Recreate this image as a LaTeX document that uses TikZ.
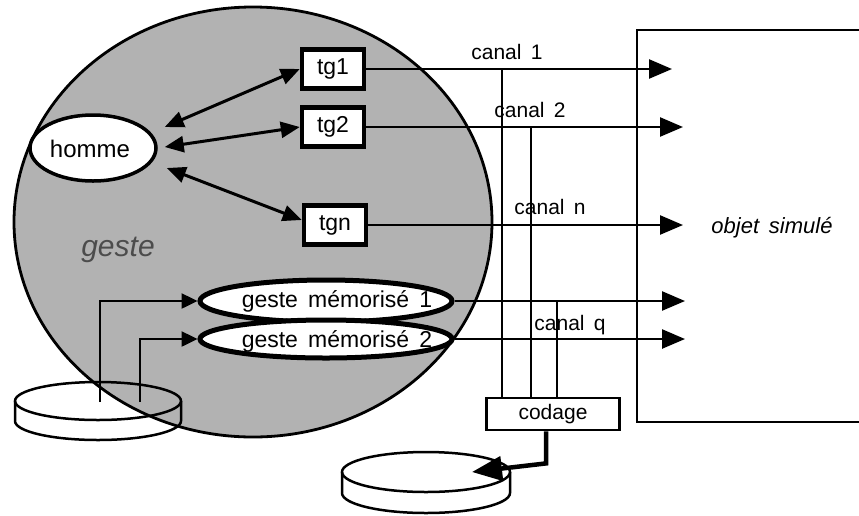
\documentclass[tikz,border=0pt]{standalone}
\usepackage{fontspec}
\setmainfont[WordSpace=1.6]{Liberation Sans}
\usetikzlibrary{arrows.meta,shapes.geometric,calc}
\begin{document}
\begin{tikzpicture}[x=1pt,y=-1pt,
  txt/.style={font=\fontsize{21}{24}\selectfont, inner sep=0pt},
  btxt/.style={font=\fontsize{23}{26}\selectfont, inner sep=0pt},
  itxt/.style={font=\fontsize{22}{25}\selectfont\itshape, inner sep=0pt},
  gbox/.style={draw, line width=4.5pt, fill=white, minimum width=62pt, minimum height=39pt, inner sep=0pt, font=\fontsize{23}{26}\selectfont},
  ovalw/.style={ellipse, draw, fill=white, inner sep=0pt},
  biarrow/.style={line width=3pt, {Triangle[length=19pt,width=16pt]}-{Triangle[length=19pt,width=16pt]}},
  chan/.style={line width=2.5pt, -{Triangle[length=23pt,width=19pt]}},
  memarrow/.style={line width=2.5pt, -{Triangle[length=16pt,width=15pt]}},
  thinl/.style={line width=2.5pt},
  disc/.style={line width=2.5pt},
  ]
\useasboundingbox (0,0) rectangle (859,515);

% big gesture circle
\node[draw, line width=2.8pt, fill=black!30, ellipse, minimum width=478pt, minimum height=430pt, inner sep=0pt] (geste) at (253,222) {};
\node[font=\fontsize{30}{32}\selectfont\itshape, text=black!70, inner sep=0pt] (gestet) at (118,250) {geste};

% upper-left disc
\draw[disc] (98,401) ellipse [x radius=83pt, y radius=19pt];
\draw[disc] (15,401) -- (15,421) arc[start angle=180, end angle=360, x radius=83pt, y radius=19pt] -- (181,401);

% lower disc
\draw[disc] (426,472) ellipse [x radius=84pt, y radius=20pt];
\draw[disc] (342,472) -- (342,493) arc[start angle=180, end angle=360, x radius=84pt, y radius=20pt] -- (510,472);

% memorised gestures
\node[ovalw, line width=5pt, minimum width=252pt, minimum height=42pt] (mem1) at (326,301) {};
\node[ovalw, line width=5pt, minimum width=252pt, minimum height=38pt] (mem2) at (326,339) {};
\node[btxt] (mem1t) at (337,301) {geste mémorisé 1};
\node[btxt] (mem2t) at (337,341) {geste mémorisé 2};

\coordinate (d1) at (100,402);
\coordinate (d2) at (140,402);
\draw[memarrow] (d1) |- (mem1.west);
\draw[memarrow] (d2) |- (mem2.west);

% homme
\node[ovalw, line width=3.5pt, minimum width=126pt, minimum height=66pt] (homme) at (93,148) {};
\node[font=\fontsize{24}{27}\selectfont, inner sep=0pt] (hommet) at (90,149) {homme};

% tg boxes
\node[gbox] (tg1) at (333,69) {tg1};
\node[gbox] (tg2) at (333,127) {tg2};
\node[gbox] (tgn) at (335,225) {tgn};

\draw[biarrow] ($(homme.east)+(7,-21)$) -- (tg1.west);
\draw[biarrow] ($(homme.east)+(7,-1)$) -- (tg2.west);
\draw[biarrow] ($(homme.east)+(9,20)$) -- ([yshift=5pt]tgn.west);

% simulated object frame
\node[draw, line width=2.5pt, minimum width=263pt, minimum height=392pt, inner sep=0pt] (objet) at (768.5,226) {};
\node[itxt] (objett) at (772,228) {objet simulé};

% channels
\coordinate (e1) at (672,69);
\coordinate (e2) at (683,127);
\coordinate (en) at (683,225);
\coordinate (eq1) at (685,301);
\coordinate (eq2) at (685,339);
\draw[chan] (tg1.east) -- (e1);
\draw[chan] (tg2.east) -- (e2);
\draw[chan] (tgn.east) -- (en);
\draw[chan] (mem1.east) -- (eq1);
\draw[chan] (mem2.east) -- (eq2);

\node[txt] (c1) at (507,52) {canal 1};
\node[txt] (c2) at (530,110) {canal 2};
\node[txt] (cn) at (550,207) {canal n};
\node[txt] (cq) at (570,325) {canal q};

% codage
\node[draw, line width=2.8pt, fill=white, minimum width=133pt, minimum height=32pt, txt] (codage) at (553,414) {codage};
\coordinate (v1) at (502,69);
\coordinate (v2) at (531,127);
\coordinate (v3) at (557,301);
\draw[thinl] (v1) -- (v1 |- codage.north);
\draw[thinl] (v2) -- (v2 |- codage.north);
\draw[thinl] (v3) -- (v3 |- codage.north);

\coordinate (dk) at (472,472);
\draw[line width=4.5pt, -{Triangle[length=30pt,width=24pt]}] ([xshift=-7pt]codage.south) -- ++(0,32) -- (dk);
\end{tikzpicture}
\end{document}
